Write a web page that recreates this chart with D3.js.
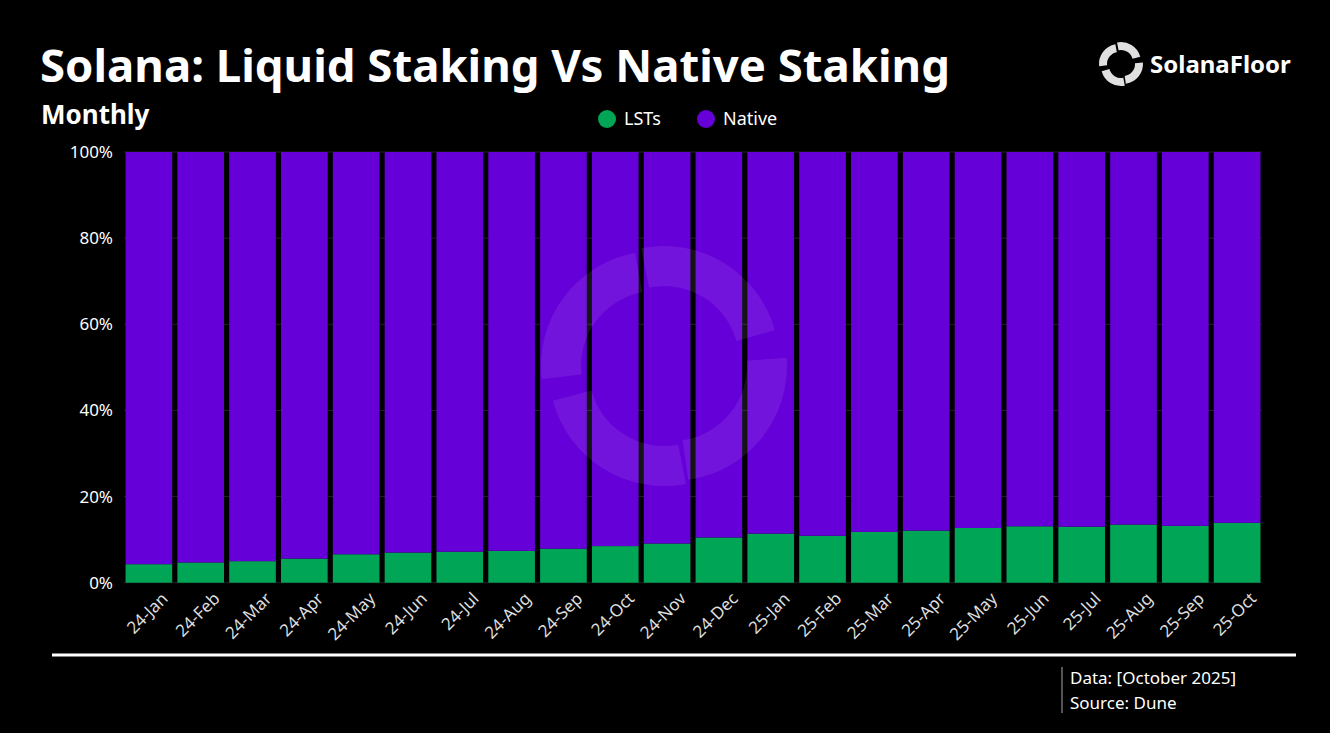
<!DOCTYPE html><html><head><meta charset="utf-8"><script src="https://cdn.jsdelivr.net/npm/d3@7"></script>
<style>body{margin:0;background:#000}svg{display:block}</style></head><body><svg id="c" width="1330" height="733"></svg>
<script>
const months=["24-Jan","24-Feb","24-Mar","24-Apr","24-May","24-Jun","24-Jul","24-Aug","24-Sep","24-Oct","24-Nov","24-Dec","25-Jan","25-Feb","25-Mar","25-Apr","25-May","25-Jun","25-Jul","25-Aug","25-Sep","25-Oct"];
const lsts=[4.3,4.7,5.0,5.6,6.6,7.0,7.2,7.4,7.9,8.5,9.1,10.5,11.4,10.9,11.8,12.1,12.7,13.1,13.0,13.5,13.2,13.9];
const native=lsts.map(v=>100-v);
const yTicks=[0,20,40,60,80,100];
const svg=d3.select("#c");
svg.append("rect").attr("width",1330).attr("height",733).attr("fill","#000");
const F="'Noto Sans',sans-serif";
const x=d3.scaleBand().domain(months).range([124,1262]).paddingInner(0.1).paddingOuter(0.03);
const y=d3.scaleLinear().domain([0,100]).range([582.7,152]);
svg.append("g").selectAll("line").data(yTicks).join("line").attr("x1",124).attr("x2",1262).attr("y1",d=>y(d)).attr("y2",d=>y(d)).attr("stroke","#222");
const g=svg.append("g");
g.selectAll(".l").data(months).join("rect").attr("x",d=>x(d)).attr("width",x.bandwidth()).attr("y",(d,i)=>y(lsts[i])).attr("height",(d,i)=>y(0)-y(lsts[i])).attr("fill","#00a555");
g.selectAll(".n").data(months).join("rect").attr("x",d=>x(d)).attr("width",x.bandwidth()).attr("y",(d,i)=>y(100)).attr("height",(d,i)=>y(lsts[i])-y(100)).attr("fill","#6600d8");
// watermark
const wm=svg.append("g").attr("transform","translate(664,366)").attr("opacity",0.08);
const arc=d3.arc().innerRadius(75).outerRadius(115);
[[-0.2,1.3],[1.5,3.0],[2.95,4.45],[4.6,6.1]].forEach((a,i)=>{
 const off=[[0,-5],[8,0],[0,5],[-8,0]][i];
 wm.append("path").attr("d",arc({startAngle:a[0],endAngle:a[1]})).attr("fill","#fff").attr("transform",`translate(${off[0]},${off[1]})`);});
const ya=svg.append("g").attr("transform","translate(116,0)").call(d3.axisLeft(y).tickValues(yTicks).tickFormat(d=>d+"%").tickSize(0));
ya.select(".domain").remove();
ya.selectAll("text").attr("fill","#fff").attr("font-size",17).attr("font-family",F);
const xa=svg.append("g").attr("transform","translate(0,594)").call(d3.axisBottom(x).tickSize(0));
xa.select(".domain").remove();
xa.selectAll("text").attr("fill","#ddd").attr("font-size",17).attr("font-family",F).attr("text-anchor","end").attr("dx","0.6em").attr("dy","0.9em").attr("transform","rotate(-45)");
svg.append("text").attr("x",40).attr("y",82).text("Solana: Liquid Staking Vs Native Staking").attr("fill","#fff").attr("font-family",F).attr("font-weight","bold").attr("font-size",45.5);
svg.append("text").attr("x",41).attr("y",124).text("Monthly").attr("fill","#fff").attr("font-family",F).attr("font-weight","bold").attr("font-size",26);
const leg=[["LSTs","#00a555",607],["Native","#6600d8",706]];
leg.forEach(l=>{svg.append("circle").attr("cx",l[2]).attr("cy",119).attr("r",9).attr("fill",l[1]);
svg.append("text").attr("x",l[2]+17).attr("y",125).text(l[0]).attr("fill","#fff").attr("font-family",F).attr("font-size",18);});
// logo
const lg=svg.append("g").attr("transform","translate(1121,64)");
const la=d3.arc().innerRadius(12).outerRadius(20);
[[-0.2,1.3],[1.5,3.0],[2.95,4.45],[4.6,6.1]].forEach((a,i)=>{const off=[[0,-2],[2,0],[0,2],[-2,0]][i];
lg.append("path").attr("d",la({startAngle:a[0],endAngle:a[1]})).attr("fill","#e0e0e0").attr("transform",`translate(${off[0]},${off[1]})`);});
svg.append("text").attr("x",1150).attr("y",73).text("SolanaFloor").attr("fill","#fff").attr("font-family",F).attr("font-weight","bold").attr("font-size",24);
svg.append("line").attr("x1",52).attr("x2",1296).attr("y1",655).attr("y2",655).attr("stroke","#fff").attr("stroke-width",3);
svg.append("line").attr("x1",1062).attr("x2",1062).attr("y1",667).attr("y2",713).attr("stroke","#aaa");
svg.append("text").attr("x",1070).attr("y",684).text("Data: [October 2025]").attr("fill","#fff").attr("font-family",F).attr("font-size",17);
svg.append("text").attr("x",1070).attr("y",709).text("Source: Dune").attr("fill","#fff").attr("font-family",F).attr("font-size",17);
</script></body></html>
